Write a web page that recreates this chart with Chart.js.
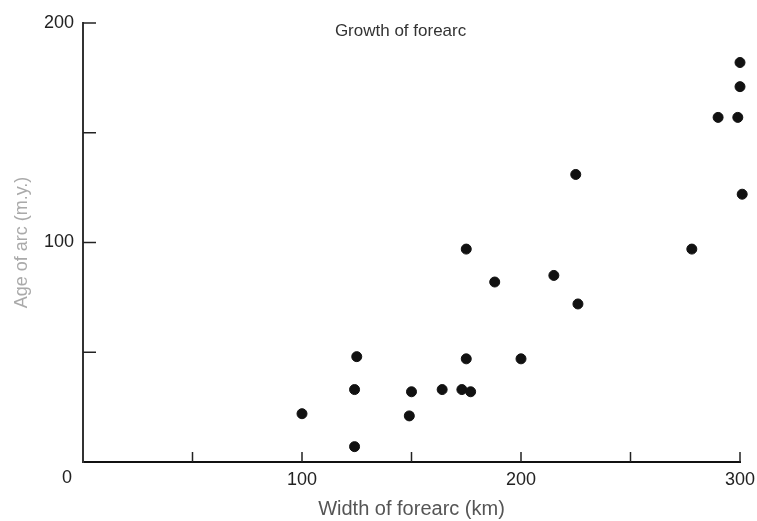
<!DOCTYPE html>
<html>
<head>
<meta charset="utf-8">
<script src="https://cdn.jsdelivr.net/npm/chart.js@4"></script>
<style>
  body { margin: 0; background: #fff; }
  #wrap { width: 757px; height: 521px; }
</style>
</head>
<body>
<div id="wrap"><canvas id="myChart"></canvas></div>
<script>
// forearc width (km) and arc age (m.y.)
const widths = [100, 125, 124, 124, 150, 149, 164, 173, 177, 175, 175, 188, 200, 215, 225, 226, 278, 290, 300, 300, 299, 301];
const ages   = [22, 48, 33, 7, 32, 21, 33, 33, 32, 47, 97, 82, 47, 85, 131, 72, 97, 157, 182, 171, 157, 122];
const xLabels = [100, 200, 300];
const yLabels = [100, 200];
const tickStep = 50;

const points = widths.map((w, i) => ({ x: w, y: ages[i] }));
const fontFam = '"Liberation Sans", Arial, sans-serif';

// inner tick marks, the plot title and the shared "0"
const extras = {
    id: 'extras',
    afterDraw(chart) {
        const ctx = chart.ctx;
        const xs = chart.scales.x, ys = chart.scales.y;
        ctx.save();
        ctx.strokeStyle = '#222';
        ctx.lineWidth = 1.5;
        for (let v = tickStep; v <= 300; v += tickStep) {
            const px = xs.getPixelForValue(v);
            ctx.beginPath();
            ctx.moveTo(px, ys.bottom);
            ctx.lineTo(px, ys.bottom - 10);
            ctx.stroke();
        }
        for (let v = tickStep; v <= 200; v += tickStep) {
            const py = ys.getPixelForValue(v);
            ctx.beginPath();
            ctx.moveTo(xs.left, py);
            ctx.lineTo(xs.left + 13, py);
            ctx.stroke();
        }
        ctx.fillStyle = '#333';
        ctx.font = '17px ' + fontFam;
        ctx.textAlign = 'center';
        ctx.textBaseline = 'middle';
        ctx.fillText('Growth of forearc', xs.getPixelForValue(145), ys.getPixelForValue(196));
        ctx.fillStyle = '#222';
        ctx.font = '18px ' + fontFam;
        ctx.fillText('0', xs.left - 16, ys.bottom + 16);
        ctx.restore();
    }
};

const config = {
    type: 'scatter',
    data: {
        datasets: [{
            label: 'Arcs',
            data: points,
            backgroundColor: '#111',
            borderColor: '#111',
            pointRadius: 5,
            pointHoverRadius: 5,
            clip: false
        }]
    },
    options: {
        responsive: true,
        maintainAspectRatio: false,
        animation: false,
        layout: {
            padding: { left: 0, right: 17, top: 23, bottom: 0 }
        },
        plugins: {
            legend: { display: false },
            tooltip: { enabled: false }
        },
        scales: {
            x: {
                type: 'linear',
                min: 0,
                max: 300,
                afterFit: s => { s.height = 59; s.paddingLeft = 0; s.paddingRight = 0; },
                grid: { display: false, drawTicks: false },
                border: { display: true, color: '#111', width: 2 },
                ticks: {
                    stepSize: tickStep,
                    padding: 7,
                    color: '#222',
                    font: { size: 18, family: fontFam },
                    callback: v => xLabels.includes(v) ? String(v) : ''
                },
                title: {
                    display: true,
                    text: 'Width of forearc (km)',
                    color: '#555',
                    font: { size: 20, family: fontFam },
                    padding: { top: 0, bottom: 0 }
                }
            },
            y: {
                type: 'linear',
                min: 0,
                max: 200,
                afterFit: s => { s.width = 83; s.paddingTop = 0; s.paddingBottom = 0; },
                grid: { display: false, drawTicks: false },
                border: { display: true, color: '#333', width: 2 },
                ticks: {
                    stepSize: tickStep,
                    padding: 9,
                    color: '#222',
                    font: { size: 18, family: fontFam },
                    callback: v => yLabels.includes(v) ? String(v) : ''
                },
                title: {
                    display: true,
                    text: 'Age of arc (m.y.)',
                    color: '#aaa',
                    font: { size: 18, family: fontFam },
                    padding: { top: 11, bottom: 0 }
                }
            }
        }
    },
    plugins: [extras]
};

const myChart = new Chart(document.getElementById('myChart'), config);
</script>
</body>
</html>
